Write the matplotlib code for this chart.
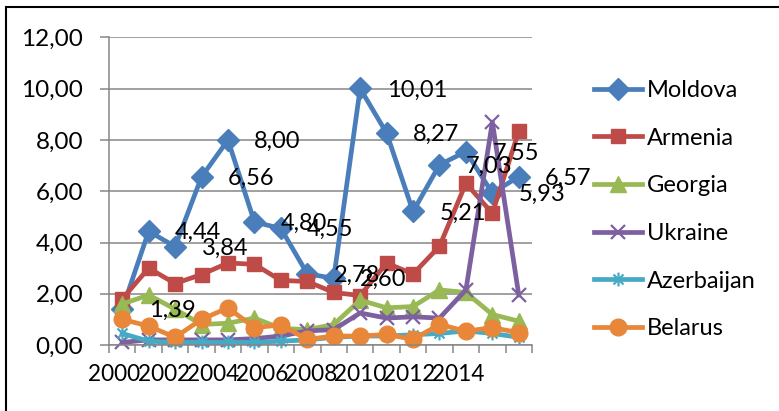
import matplotlib
matplotlib.use("Agg")
import matplotlib.pyplot as plt
from matplotlib.path import Path
from matplotlib.patches import Rectangle
from matplotlib.ticker import FuncFormatter, FixedLocator

plt.rcParams['font.family'] = ['Lato', 'DejaVu Sans']

# data
years = list(range(2000, 2016))
moldova = [1.39, 4.44, 3.84, 6.56, 8.00, 4.80, 4.55, 2.78, 2.60, 10.01, 8.27, 5.21, 7.03, 7.55, 5.93, 6.57]
armenia = [1.80, 3.00, 2.40, 2.75, 3.20, 3.15, 2.52, 2.48, 2.05, 1.93, 3.20, 2.77, 3.85, 6.31, 5.14, 8.34]
georgia = [1.60, 1.95, 1.40, 0.80, 0.85, 1.05, 0.65, 0.60, 0.80, 1.75, 1.45, 1.50, 2.15, 2.05, 1.19, 0.93]
ukraine = [0.10, 0.20, 0.20, 0.20, 0.20, 0.25, 0.35, 0.55, 0.60, 1.25, 1.05, 1.10, 1.05, 2.15, 8.70, 1.95]
azerbaijan = [0.45, 0.15, 0.10, 0.10, 0.10, 0.10, 0.15, 0.20, 0.30, 0.35, 0.35, 0.40, 0.45, 0.55, 0.45, 0.30]
belarus = [1.00, 0.74, 0.30, 1.00, 1.45, 0.68, 0.78, 0.22, 0.35, 0.35, 0.41, 0.22, 0.80, 0.54, 0.68, 0.48]

# Excel style asterisk marker (x plus vertical bar)
star = Path([(0, -1), (0, 1), (-0.72, -0.72), (0.72, 0.72), (-0.72, 0.72), (0.72, -0.72)],
            [Path.MOVETO, Path.LINETO, Path.MOVETO, Path.LINETO, Path.MOVETO, Path.LINETO])

series = [
    ("Moldova", moldova, "#4A7EBB", "D", 11),
    ("Armenia", armenia, "#BE4B48", "s", 10.5),
    ("Georgia", georgia, "#98B954", "^", 11),
    ("Ukraine", ukraine, "#7D60A0", "x", 10),
    ("Azerbaijan", azerbaijan, "#46AAC5", star, 10),
    ("Belarus", belarus, "#E8873A", "o", 12),
]

fig = plt.figure(figsize=(7.79, 4.11), dpi=100)
ax = fig.add_axes([109 / 779, 1 - 345 / 411, (532 - 109) / 779, (345 - 37.5) / 411])

x = list(range(len(years)))
for name, vals, col, mk, ms in series:
    if mk is star or mk == "x":
        ax.plot(x, vals, color=col, lw=3.4, marker=mk, ms=ms, mfc='none',
                mec=col, mew=1.6, label=name, clip_on=False)
    else:
        ax.plot(x, vals, color=col, lw=3.4, marker=mk, ms=ms, mfc=col,
                mec=col, label=name, clip_on=False)

# data labels for Moldova
for xi, v in zip(x, moldova):
    ax.annotate(f"{v:.2f}".replace('.', ','), (xi, v), xytext=(19, -1),
                textcoords='offset points', ha='left', va='center',
                fontsize=17, color='black', zorder=10, annotation_clip=False)

ax.set_xlim(-0.5, len(years) - 0.5)
ax.set_ylim(0, 12)
ax.set_yticks([0, 2, 4, 6, 8, 10, 12])
ax.yaxis.set_major_formatter(FuncFormatter(lambda v, p: f"{v:.2f}".replace('.', ',')))
ax.grid(axis='y', color='#868686', lw=1.1)
ax.set_axisbelow(True)

# Excel squeezed the year labels together, so they sit slightly tighter than every 2nd category
label_step = 1.857
ax.set_xticks([-0.29 + label_step * k for k in range(len(years[::2]))])
ax.set_xticklabels([str(y) for y in years[::2]])
ax.xaxis.set_minor_locator(FixedLocator([i - 0.5 for i in range(len(years) + 1)]))
ax.tick_params(axis='x', which='major', length=0, pad=14, labelsize=16.3)
ax.tick_params(axis='x', which='minor', length=6, width=1.1, color='#868686', direction='out')
ax.tick_params(axis='y', length=6.5, width=1.1, color='#868686', pad=12, labelsize=17.5)

for s in ['top', 'right']:
    ax.spines[s].set_visible(False)
for s in ['left', 'bottom']:
    ax.spines[s].set_color('#868686')
    ax.spines[s].set_linewidth(1.1)

fig.legend(loc='center left', bbox_to_anchor=(582 / 779, 1 - 209.7 / 411), frameon=False,
           borderpad=0, fontsize=17, handlelength=2.05, handletextpad=0.2,
           labelspacing=1.13, numpoints=1)

# outer chart border
fig.patches.append(Rectangle((6 / 779, -0.1), 1.0, 1.1 - 7 / 411, transform=fig.transFigure,
                             fill=False, ec='black', lw=1.5))

fig.savefig("out.png", dpi=100)
